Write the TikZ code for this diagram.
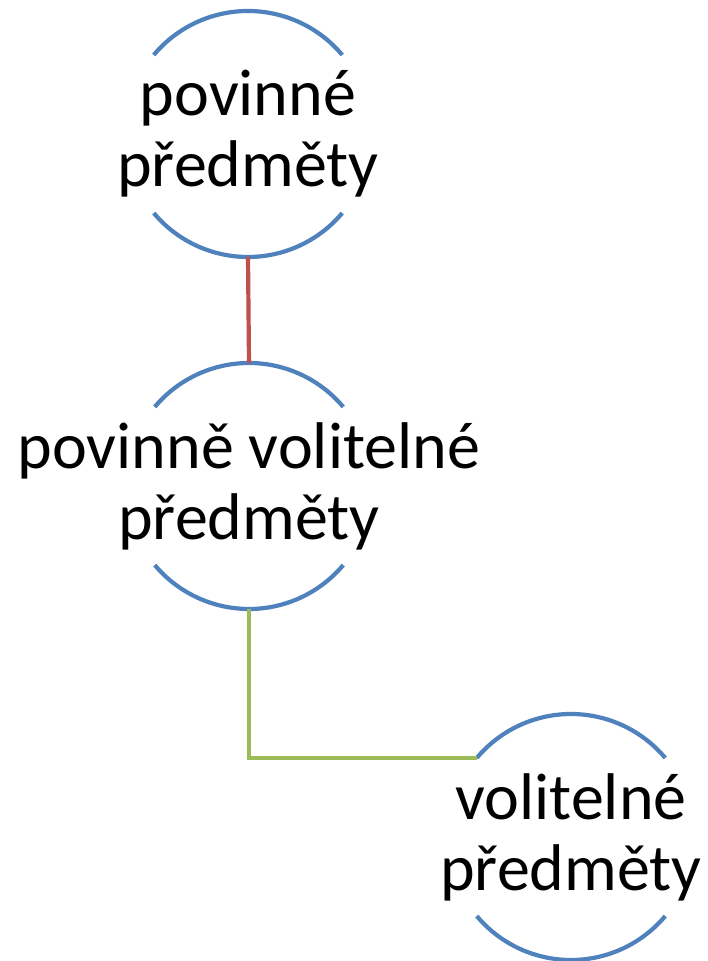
\documentclass[tikz,border=0pt]{standalone}
\usepackage{fontspec}
\setmainfont{Carlito}
\definecolor{arcblue}{HTML}{4F81BD}
\definecolor{linkred}{HTML}{C0504D}
\definecolor{linkgreen}{HTML}{9BBB59}
\begin{document}
\begin{tikzpicture}[x=1pt,y=1pt,
  ring/.style={circle, minimum size=246pt, inner sep=0pt, outer sep=0pt},
  lbl/.style={inner sep=0pt, align=center, font=\fontsize{66}{71}\selectfont},
  arcline/.style={draw=arcblue, line width=4.2pt},
  link/.style={line width=4.2pt}]
\useasboundingbox (0,0) rectangle (708,961);
\node[ring] (A) at (248,827) {};
\node[ring] (B) at (249,475) {};
\node[ring] (C) at (571,124) {};
\node[lbl] (At) at (A.center) {povinné\\předměty};
\node[lbl] (Bt) at (B.center) {povinně volitelné\\předměty};
\node[lbl] (Ct) at (C.center) {volitelné\\předměty};
\foreach \n in {A,B,C}{
  \draw[arcline] (\n.40) arc[start angle=40, end angle=140, radius=123pt];
  \draw[arcline] (\n.220) arc[start angle=220, end angle=320, radius=123pt];
}
\draw[link, draw=linkred] (A.south) -- (B.north);
\draw[link, draw=linkgreen] (B.south) |- (C.140);
\end{tikzpicture}
\end{document}
